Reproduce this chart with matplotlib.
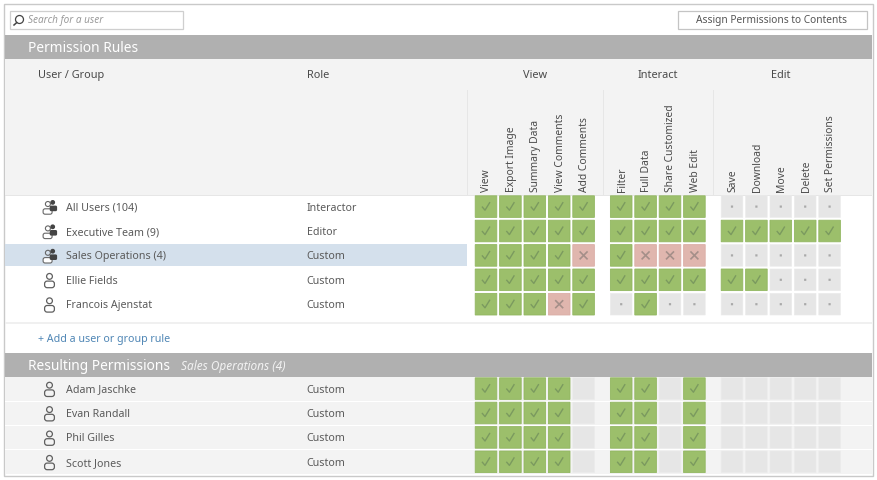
import matplotlib
matplotlib.use("Agg")
import matplotlib.pyplot as plt
from matplotlib.patches import Rectangle, FancyBboxPatch, Circle

plt.rcParams['font.family'] = ['Noto Sans', 'DejaVu Sans']

# ---- data ----
groups = ["View", "Interact", "Edit"]
view_perms = ["View", "Export Image", "Summary Data", "View Comments", "Add Comments"]
interact_perms = ["Filter", "Full Data", "Share Customized", "Web Edit"]
edit_perms = ["Save", "Download", "Move", "Delete", "Set Permissions"]

rule_names = ["All Users (104)", "Executive Team (9)", "Sales Operations (4)", "Ellie Fields", "Francois Ajenstat"]
rule_roles = ["Interactor", "Editor", "Custom", "Custom", "Custom"]
rule_is_group = [True, True, True, False, False]
# 1 allowed, -1 denied, 0 unspecified, 2 blank
rule_all_users = [1,1,1,1,1, 1,1,1,1, 0,0,0,0,0]
rule_exec_team = [1,1,1,1,1, 1,1,1,1, 1,1,1,1,1]
rule_sales_ops = [1,1,1,1,-1, 1,-1,-1,-1, 0,0,0,0,0]
rule_ellie = [1,1,1,1,1, 1,1,1,1, 1,1,0,0,0]
rule_francois = [1,1,1,-1,1, 0,1,0,0, 0,0,0,0,0]
rule_rows = [rule_all_users, rule_exec_team, rule_sales_ops, rule_ellie, rule_francois]

result_names = ["Adam Jaschke", "Evan Randall", "Phil Gilles", "Scott Jones"]
result_roles = ["Custom", "Custom", "Custom", "Custom"]
result_adam = [1,1,1,1,2, 1,1,2,1, 2,2,2,2,2]
result_evan = [1,1,1,1,2, 1,1,2,1, 2,2,2,2,2]
result_phil = [1,1,1,1,2, 1,1,2,1, 2,2,2,2,2]
result_scott = [1,1,1,1,2, 1,1,2,1, 2,2,2,2,2]
result_rows = [result_adam, result_evan, result_phil, result_scott]

# ---- layout ----
W, H = 877, 480
fig = plt.figure(figsize=(W/100, H/100), dpi=100, facecolor="white")
ax = fig.add_axes([0, 0, 1, 1])
ax.set_xlim(0, W); ax.set_ylim(H, 0); ax.axis("off")

TXT = "#5a5a5a"
HEAD = "#4a4a4a"
FS = 7.7
PITCH = 24.4
CELL = 21.6
group_x0 = [475.2, 610.4, 721.2]
group_perms = [view_perms, interact_perms, edit_perms]
col_x = [g + i*PITCH for g, perms in zip(group_x0, group_perms) for i in range(len(perms))]
perm_labels = [p for perms in group_perms for p in perms]

def rect(x0, y0, x1, y1, fc, ec="none", lw=0, z=1, snap=None):
    ax.add_patch(Rectangle((x0, y0), x1-x0, y1-y0, fc=fc, ec=ec, lw=lw, zorder=z, snap=snap))

# frame and backgrounds
rect(3.5, 3.5, 872.5, 475.5, "white", "#c9c9c9", 1.0, 0)
rect(5, 35, 872, 59, "#b0b0b0")
rect(5, 59, 872, 195, "#f3f3f3")
rect(5, 195, 872, 196, "#e6e6e6")
rect(5, 243.5, 467, 266, "#d4e0ec")
rect(5, 322, 872, 323.5, "#f0f0f0")
rect(5, 353, 872, 377, "#b0b0b0")
rect(5, 377, 872, 474, "#f3f3f3")
for yy in [400.5, 424.5, 449]:
    rect(5, yy, 872, yy+1.2, "white", z=1.5)

# top controls
rect(9.5, 10.5, 183, 29, "white", "#cfcfcf", 0.9)
rect(678, 10.5, 867, 29, "white", "#c4c4c4", 0.9)
ax.add_patch(Circle((19.5, 19.5), 4, fc="none", ec="#444444", lw=0.9, zorder=3))
ax.plot([14, 16.8], [25, 22.5], color="#444444", lw=1.1, zorder=3)
ax.text(28, 23.3, "Search for a user", fontsize=7.2, style="italic", color="#9a9a9a", va="baseline")
ax.text(772, 23.5, "Assign Permissions to Contents", fontsize=7.35, color="#555555", va="baseline", ha="center")

# section headers
ax.text(27.5, 52.3, "Permission Rules", fontsize=9.9, color="white", va="baseline")
ax.text(27.5, 370.2, "Resulting Permissions", fontsize=9.9, color="white", va="baseline")
ax.text(181, 370.2, "Sales Operations (4)", fontsize=8.5, style="italic", color="#f2f2f2", va="baseline")

# column headers
ax.text(38, 78.2, "User / Group", fontsize=7.9, color=HEAD, va="baseline")
ax.text(306.5, 78.2, "Role", fontsize=7.9, color=HEAD, va="baseline")
for name, cx in zip(groups, [535.5, 658, 781]):
    ax.text(cx, 78.2, name, fontsize=7.9, color=HEAD, va="baseline", ha="center")
for sx in [467.7, 603, 713]:
    rect(sx-0.5, 90, sx+0.5, 195, "#e6e6e6", z=2)
for lab, x in zip(perm_labels, col_x):
    ax.text(x + CELL/2 + 0.9, 192.2, lab, fontsize=7.4, color=HEAD, rotation=90, va="bottom", ha="center")

# icons
def person(cx, cy):
    col = "#5f5f5f"
    ax.add_patch(Circle((cx, cy-3.4), 2.9, fc="none", ec=col, lw=0.9, zorder=4))
    ax.add_patch(FancyBboxPatch((cx-4.9, cy+1.3), 9.8, 6.6, boxstyle="round,pad=0,rounding_size=2.6",
                                fc="none", ec=col, lw=0.9, zorder=4))

def group_icon(cx, cy):
    ax.add_patch(Circle((cx-1.6, cy-2.6), 2.5, fc="none", ec="#666666", lw=0.8, zorder=4))
    ax.add_patch(FancyBboxPatch((cx-6.4, cy+2.2), 9, 5.4, boxstyle="round,pad=0,rounding_size=2",
                                fc="white", ec="#666666", lw=0.8, zorder=4))
    ax.add_patch(Circle((cx+3.2, cy-4.2), 2.4, fc="#444444", ec="none", zorder=5))
    ax.add_patch(FancyBboxPatch((cx+0.2, cy-1), 7.4, 5.6, boxstyle="round,pad=0,rounding_size=1.5",
                                fc="#444444", ec="none", zorder=5))

# cells
def draw_cell(x, y, v):
    cx, cy = x + CELL/2, y + CELL/2
    if v == 1:
        rect(x, y, x+CELL, y+CELL, "#9cbf6b", "#92b761", 0.6, 3, False)
        ax.plot([cx-3.6, cx-1.0, cx+3.6], [cy+0.5, cy+3.6, cy-3.9], color="#7b9a5f", lw=1.0, zorder=4)
    elif v == -1:
        rect(x, y, x+CELL, y+CELL, "#e0b6ae", "#dbaea6", 0.6, 3, False)
        ax.plot([cx-3.4, cx+3.4], [cy-3.4, cy+3.4], color="#a58f89", lw=1.2, zorder=4)
        ax.plot([cx-3.4, cx+3.4], [cy+3.4, cy-3.4], color="#a58f89", lw=1.2, zorder=4)
    else:
        rect(x, y, x+CELL, y+CELL, "#e6e6e6", "#ebebeb", 0.5, 3, False)
        if v == 0:
            rect(cx-1.1, cy-1.1, cx+1.1, cy+1.1, "#a9a9a9", z=4, snap=False)

def draw_row(y0, name, role, vals, icon):
    cy = y0 + CELL/2
    icon(49.5, cy)
    ax.text(66.5, cy+4, name, fontsize=FS, color=TXT, va="baseline")
    ax.text(306.5, cy+4, role, fontsize=FS, color=TXT, va="baseline")
    for x, v in zip(col_x, vals):
        draw_cell(x, y0, v)

for i, (n, r, vals, g) in enumerate(zip(rule_names, rule_roles, rule_rows, rule_is_group)):
    draw_row(195.8 + i*PITCH, n, r, vals, group_icon if g else person)
for i, (n, r, vals) in enumerate(zip(result_names, result_roles, result_rows)):
    draw_row(377.8 + i*PITCH, n, r, vals, person)

ax.text(38.5, 341.7, "+ Add a user or group rule", fontsize=FS, color="#4f86b5", va="baseline")

fig.savefig("out.png", dpi=100, facecolor="white")
